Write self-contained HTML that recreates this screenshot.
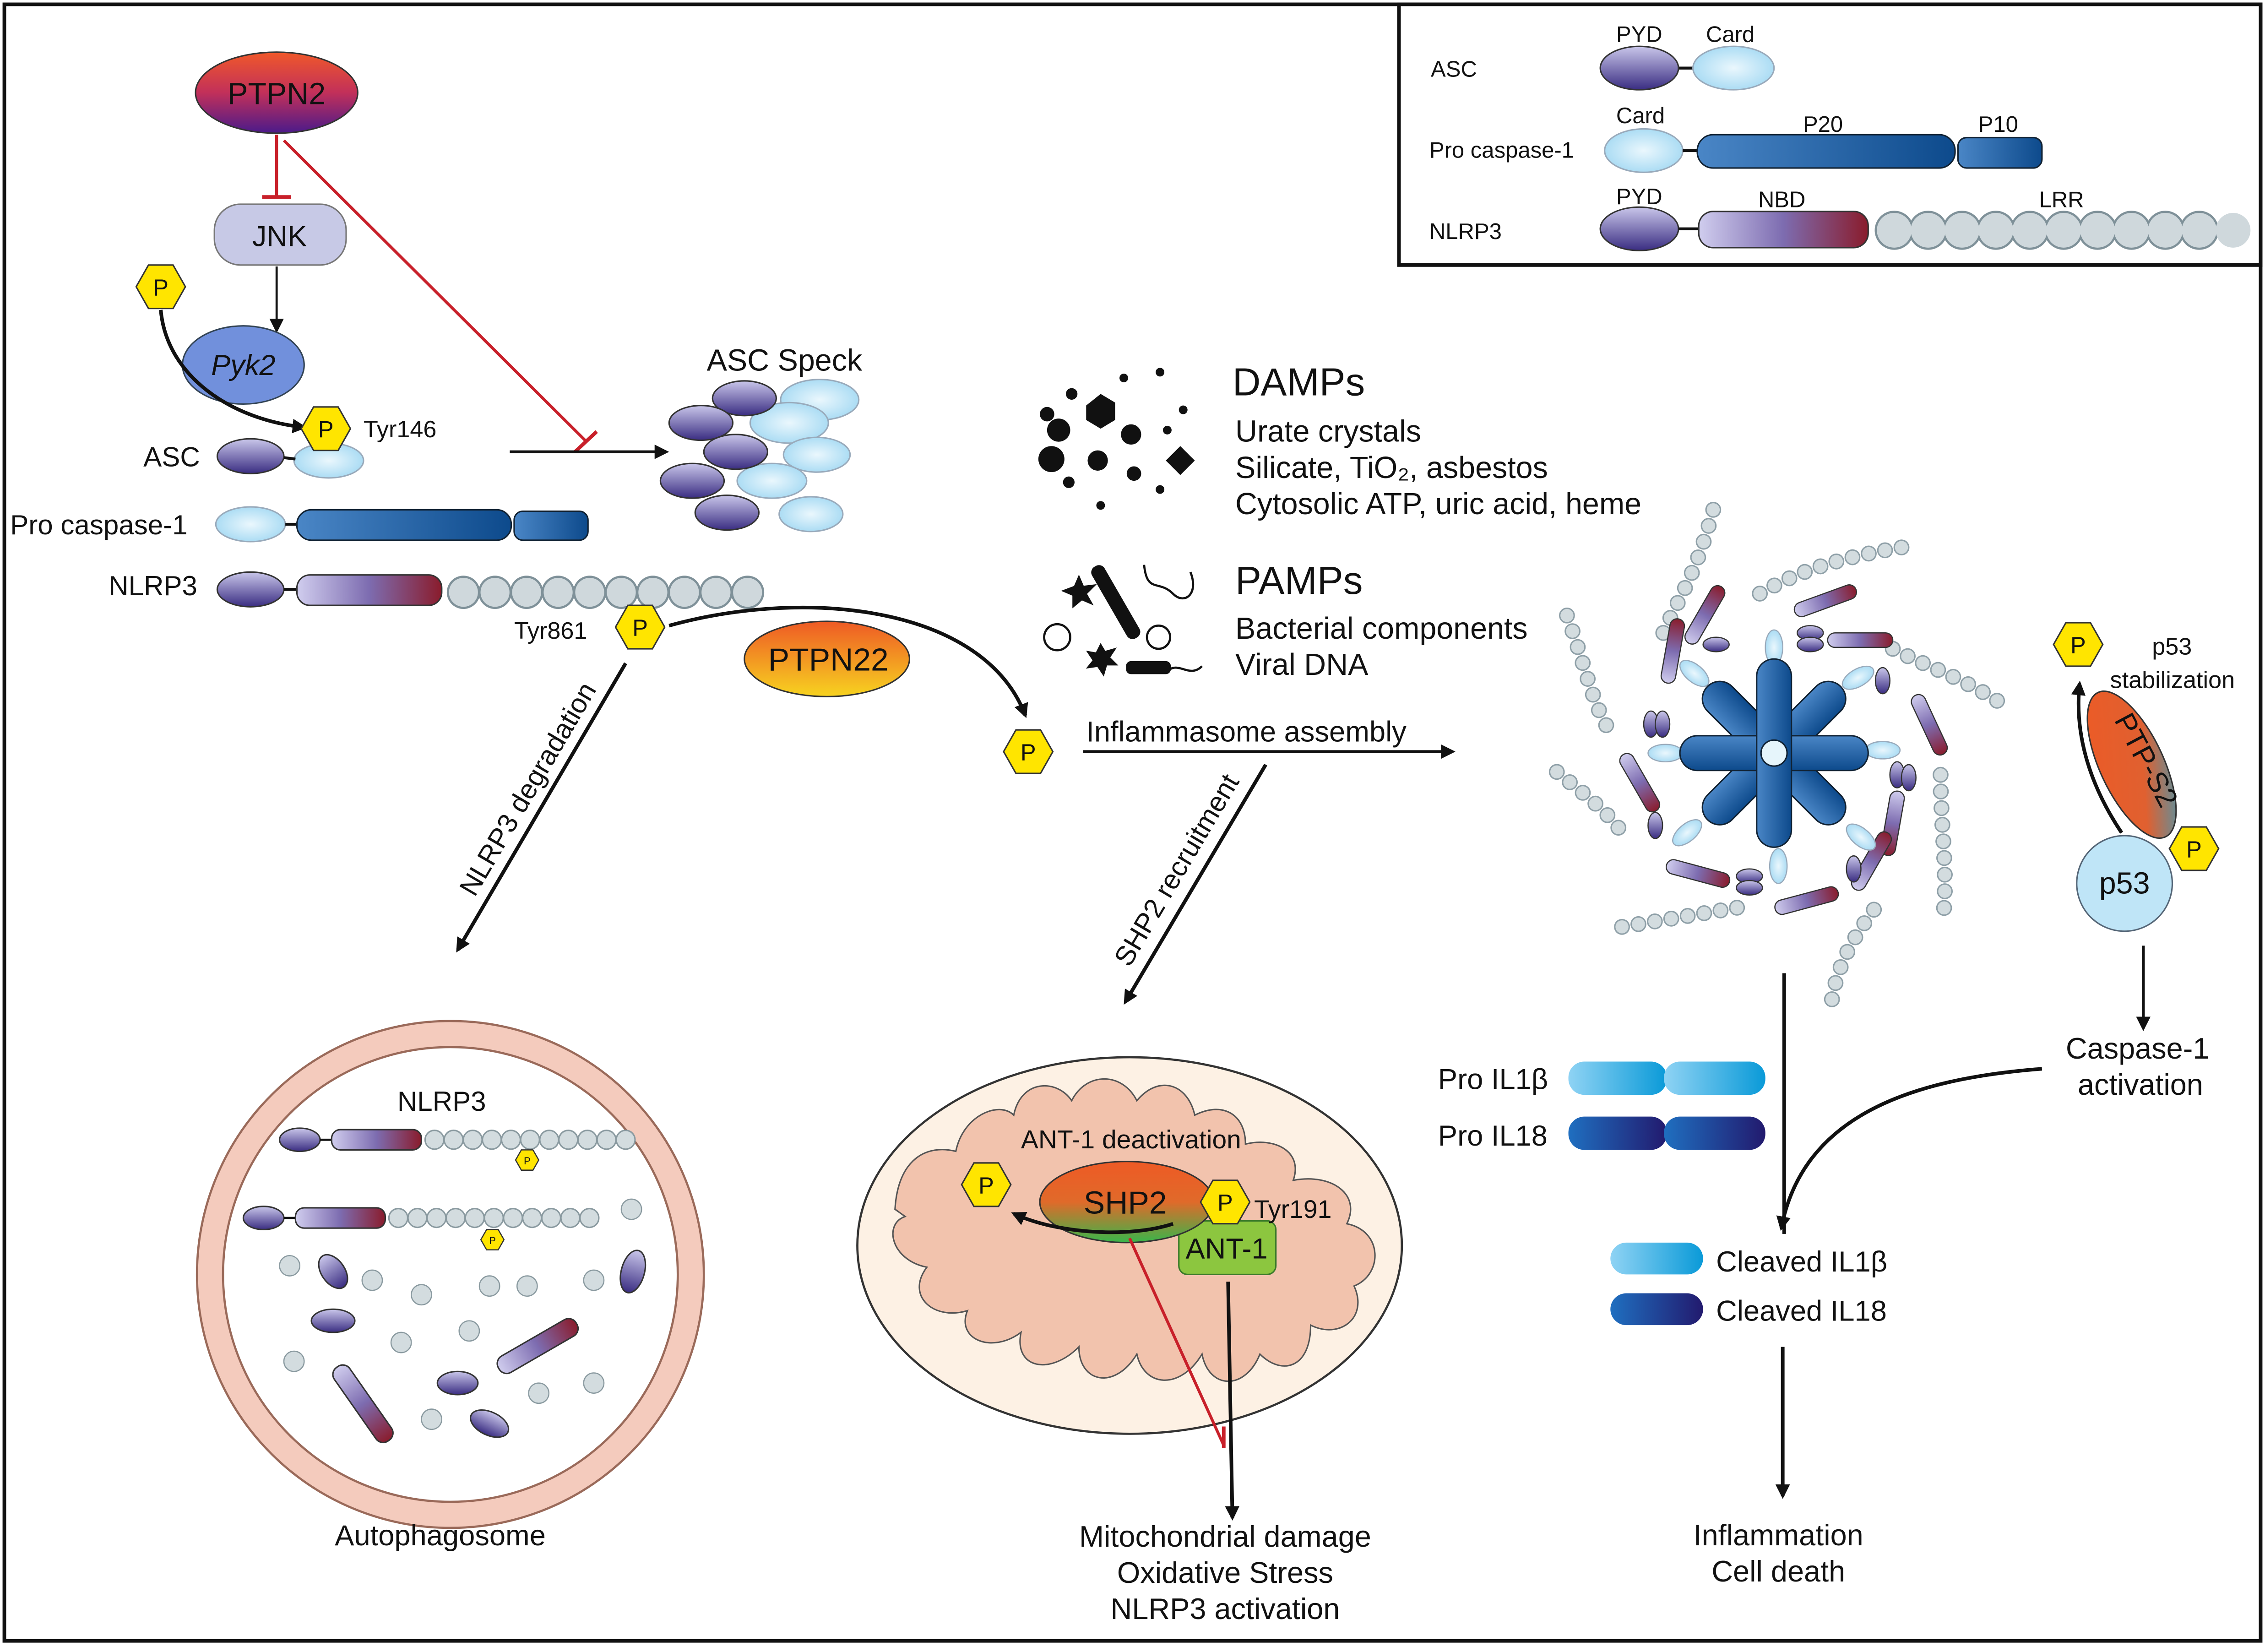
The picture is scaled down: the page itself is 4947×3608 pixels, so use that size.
<!DOCTYPE html>
<html><head><meta charset="utf-8"><style>html,body{margin:0;padding:0;background:#fff}svg{display:block}text{font-family:"Liberation Sans",sans-serif;fill:#111}</style></head><body>
<svg width="4947" height="3608" viewBox="0 0 1564 1140.7" xmlns="http://www.w3.org/2000/svg">
<defs>
<linearGradient id="pur" x1="0" y1="0" x2="0" y2="1"><stop offset="0" stop-color="#c9c6ea"/><stop offset="1" stop-color="#3a2d82"/></linearGradient>
<radialGradient id="lb" cx="0.5" cy="0.5" r="0.6"><stop offset="0" stop-color="#eaf7fd"/><stop offset="1" stop-color="#9fd7f2"/></radialGradient>
<linearGradient id="blu" x1="0" y1="0" x2="1" y2="0"><stop offset="0" stop-color="#4a86c6"/><stop offset="1" stop-color="#0d4a8c"/></linearGradient>
<linearGradient id="nbd" x1="0" y1="0" x2="1" y2="0"><stop offset="0" stop-color="#d0cdee"/><stop offset="0.5" stop-color="#7d6cb0"/><stop offset="1" stop-color="#8a1c2c"/></linearGradient>
<linearGradient id="ptpn2" x1="0" y1="0" x2="0" y2="1"><stop offset="0" stop-color="#f0582a"/><stop offset="0.5" stop-color="#c2305a"/><stop offset="1" stop-color="#4b1a8a"/></linearGradient>
<linearGradient id="ptpn22" x1="0" y1="0" x2="0" y2="1"><stop offset="0" stop-color="#ee5a25"/><stop offset="1" stop-color="#f7d320"/></linearGradient>
<linearGradient id="shp2" x1="0" y1="0" x2="0" y2="1"><stop offset="0" stop-color="#ee5a25"/><stop offset="0.5" stop-color="#e06a2a"/><stop offset="1" stop-color="#39b54a"/></linearGradient>
<linearGradient id="ptps2" x1="0" y1="0" x2="1" y2="1"><stop offset="0" stop-color="#ee5a25"/><stop offset="0.6" stop-color="#e06030"/><stop offset="1" stop-color="#2aa3c8"/></linearGradient>
<linearGradient id="il1" x1="0" y1="0" x2="1" y2="0"><stop offset="0" stop-color="#8fd3f4"/><stop offset="1" stop-color="#0a9ad8"/></linearGradient>
<linearGradient id="il18" x1="0" y1="0" x2="1" y2="0"><stop offset="0" stop-color="#1f6fc0"/><stop offset="1" stop-color="#221a6e"/></linearGradient>
<marker id="ah" markerWidth="10" markerHeight="10" refX="8" refY="5" orient="auto" markerUnits="userSpaceOnUse"><path d="M0,0 L10,5 L0,10 z" fill="#111"/></marker>
<g id="hex"><polygon points="-17,0 -8.5,-15 8.5,-15 17,0 8.5,15 -8.5,15" fill="#ffe500" stroke="#333" stroke-width="1"/><text x="0" y="6" font-size="16" text-anchor="middle">P</text></g>
<g id="hexs"><polygon points="-8,0 -4,-7 4,-7 8,0 4,7 -4,7" fill="#ffe500" stroke="#333" stroke-width="0.8"/><text x="0" y="3" font-size="7" text-anchor="middle">P</text></g>
</defs>
<rect x="3" y="3" width="1558" height="1130" fill="#fff" stroke="#111" stroke-width="2.5"/>
<!-- legend -->
<rect x="966" y="3" width="595" height="180" fill="#fff" stroke="#111" stroke-width="2.5"/>
<g font-size="15.5">
<text x="988" y="53">ASC</text><text x="987" y="109">Pro caspase-1</text><text x="987" y="165">NLRP3</text>
<text x="1116" y="29">PYD</text><text x="1178" y="29">Card</text>
<text x="1116" y="85">Card</text><text x="1245" y="91">P20</text><text x="1366" y="91">P10</text>
<text x="1116" y="141">PYD</text><text x="1214" y="143">NBD</text><text x="1408" y="143">LRR</text>
</g>
<line x1="1158" y1="47" x2="1172" y2="47" stroke="#111" stroke-width="2"/>
<ellipse cx="1132" cy="47" rx="27" ry="15" fill="url(#pur)" stroke="#333"/>
<ellipse cx="1197" cy="47" rx="28" ry="15" fill="url(#lb)" stroke="#9ab"/>
<ellipse cx="1135" cy="104" rx="27" ry="15" fill="url(#lb)" stroke="#9ab"/>
<line x1="1162" y1="104" x2="1172" y2="104" stroke="#111" stroke-width="2"/>
<rect x="1172" y="93" width="178" height="23" rx="11" fill="url(#blu)" stroke="#123"/>
<rect x="1352" y="95" width="58" height="21" rx="6" fill="url(#blu)" stroke="#123"/>
<ellipse cx="1132" cy="158" rx="27" ry="15" fill="url(#pur)" stroke="#333"/>
<line x1="1159" y1="158" x2="1173" y2="158" stroke="#111" stroke-width="2"/>
<rect x="1173" y="146" width="117" height="25" rx="10" fill="url(#nbd)" stroke="#333"/>
<path d="M1308,159 H1542" stroke="#7f9199" stroke-width="27" stroke-dasharray="0 23.4" stroke-linecap="round"/>
<path d="M1308,159 H1543" stroke="#cfd8dc" stroke-width="24" stroke-dasharray="0 23.4" stroke-linecap="round"/>

<!-- PTPN2 path -->
<ellipse cx="191" cy="64" rx="56" ry="28" fill="url(#ptpn2)" stroke="#333"/>
<text x="191" y="72" font-size="21" text-anchor="middle">PTPN2</text>
<line x1="191" y1="93" x2="191" y2="136" stroke="#c8202a" stroke-width="2"/><line x1="181" y1="136" x2="201" y2="136" stroke="#c8202a" stroke-width="2.5"/>
<line x1="196" y1="97" x2="405" y2="305" stroke="#c8202a" stroke-width="2"/><line x1="397" y1="312" x2="412" y2="298" stroke="#c8202a" stroke-width="2.5"/>
<rect x="148" y="141" width="91" height="42" rx="18" fill="#c7c9e6" stroke="#777"/>
<text x="193" y="170" font-size="20" text-anchor="middle">JNK</text>
<line x1="191" y1="184" x2="191" y2="228" stroke="#111" stroke-width="1.5" marker-end="url(#ah)"/>
<ellipse cx="168" cy="252" rx="42" ry="27" fill="#7190dc" stroke="#345"/>
<text x="168" y="259" font-size="20" text-anchor="middle" font-style="italic">Pyk2</text>
<use href="#hex" x="111" y="198"/>
<path d="M111,214 C115,260 160,290 210,295" fill="none" stroke="#111" stroke-width="2.5" marker-end="url(#ah)"/>
<ellipse cx="227" cy="318" rx="24" ry="12" fill="url(#lb)" stroke="#9ab"/>
<use href="#hex" x="225" y="296"/>
<text x="251" y="302" font-size="16.5">Tyr146</text>
<text x="99" y="322" font-size="19">ASC</text>
<ellipse cx="173" cy="315" rx="23" ry="12" fill="url(#pur)" stroke="#333"/>
<line x1="196" y1="316" x2="204" y2="317" stroke="#111" stroke-width="2"/>
<line x1="352" y1="312" x2="460" y2="312" stroke="#111" stroke-width="2" marker-end="url(#ah)"/>
<text x="488" y="256" font-size="21">ASC Speck</text>
<g stroke-width="1">
<ellipse cx="566" cy="276" rx="27" ry="14" fill="url(#lb)" stroke="#9ab"/>
<ellipse cx="545" cy="292" rx="27" ry="14" fill="url(#lb)" stroke="#9ab"/>
<ellipse cx="564" cy="314" rx="23" ry="12" fill="url(#lb)" stroke="#9ab"/>
<ellipse cx="533" cy="332" rx="24" ry="12" fill="url(#lb)" stroke="#9ab"/>
<ellipse cx="560" cy="355" rx="22" ry="12" fill="url(#lb)" stroke="#9ab"/>
<ellipse cx="514" cy="275" rx="22" ry="12" fill="url(#pur)" stroke="#333"/>
<ellipse cx="484" cy="292" rx="22" ry="12" fill="url(#pur)" stroke="#333"/>
<ellipse cx="508" cy="312" rx="22" ry="12" fill="url(#pur)" stroke="#333"/>
<ellipse cx="478" cy="332" rx="22" ry="12" fill="url(#pur)" stroke="#333"/>
<ellipse cx="502" cy="354" rx="22" ry="12" fill="url(#pur)" stroke="#333"/>
</g>
<text x="7" y="369" font-size="19">Pro caspase-1</text>
<ellipse cx="173" cy="362" rx="24" ry="12" fill="url(#lb)" stroke="#9ab"/>
<line x1="197" y1="362" x2="205" y2="362" stroke="#111" stroke-width="2"/>
<rect x="205" y="352" width="148" height="21" rx="10" fill="url(#blu)" stroke="#123"/>
<rect x="355" y="353" width="51" height="20" rx="6" fill="url(#blu)" stroke="#123"/>
<text x="75" y="411" font-size="19">NLRP3</text>
<ellipse cx="173" cy="407" rx="23" ry="12" fill="url(#pur)" stroke="#333"/>
<line x1="196" y1="407" x2="205" y2="407" stroke="#111" stroke-width="2"/>
<rect x="205" y="397" width="100" height="21" rx="9" fill="url(#nbd)" stroke="#333"/>
<path d="M320,409 H517" stroke="#7f9199" stroke-width="23" stroke-dasharray="0 21.8" stroke-linecap="round"/>
<path d="M320,409 H518" stroke="#cfd8dc" stroke-width="20" stroke-dasharray="0 21.8" stroke-linecap="round"/>
<text x="355" y="441" font-size="16.5">Tyr861</text>
<use href="#hex" x="442" y="433"/>
<path d="M462,432 C560,405 680,420 708,494" fill="none" stroke="#111" stroke-width="2.5" marker-end="url(#ah)"/>
<ellipse cx="571" cy="455" rx="57" ry="26" fill="url(#ptpn22)" stroke="#333"/>
<text x="572" y="463" font-size="22" text-anchor="middle">PTPN22</text>
<use href="#hex" x="710" y="519"/>
<!-- degradation -->
<line x1="432" y1="458" x2="316" y2="656" stroke="#111" stroke-width="2.5" marker-end="url(#ah)"/>
<text transform="translate(370,548) rotate(-59.6)" font-size="19" text-anchor="middle">NLRP3 degradation</text>
<!-- autophagosome -->
<circle cx="311" cy="880" r="175" fill="#f4cbbd" stroke="#9a6a5a" stroke-width="1.5"/>
<circle cx="311" cy="880" r="157" fill="#fff" stroke="#9a6a5a" stroke-width="1.5"/>
<text x="305" y="767" font-size="19" text-anchor="middle">NLRP3</text>
<ellipse cx="207" cy="787" rx="14" ry="8" fill="url(#pur)" stroke="#333"/><line x1="221" y1="787" x2="229" y2="787" stroke="#111" stroke-width="1.5"/>
<rect x="229" y="780" width="62" height="14" rx="6" fill="url(#nbd)" stroke="#333"/>
<path d="M300,787 H432" stroke="#8a9aa0" stroke-width="14" stroke-dasharray="0 13.2" stroke-linecap="round"/><path d="M300,787 H432" stroke="#d3dcdf" stroke-width="12" stroke-dasharray="0 13.2" stroke-linecap="round"/>
<use href="#hexs" x="364" y="801"/>
<ellipse cx="182" cy="841" rx="14" ry="8" fill="url(#pur)" stroke="#333"/><line x1="196" y1="841" x2="204" y2="841" stroke="#111" stroke-width="1.5"/>
<rect x="204" y="834" width="62" height="14" rx="6" fill="url(#nbd)" stroke="#333"/>
<path d="M275,841 H410" stroke="#8a9aa0" stroke-width="14" stroke-dasharray="0 13.2" stroke-linecap="round"/><path d="M275,841 H410" stroke="#d3dcdf" stroke-width="12" stroke-dasharray="0 13.2" stroke-linecap="round"/>
<use href="#hexs" x="340" y="856"/>
<g fill="#d3dcdf" stroke="#8a9aa0" stroke-width="0.8">
<circle cx="436" cy="835" r="7"/><circle cx="200" cy="874" r="7"/><circle cx="257" cy="884" r="7"/><circle cx="291" cy="894" r="7"/><circle cx="338" cy="888" r="7"/><circle cx="364" cy="888" r="7"/><circle cx="410" cy="884" r="7"/><circle cx="203" cy="940" r="7"/><circle cx="277" cy="927" r="7"/><circle cx="324" cy="919" r="7"/><circle cx="372" cy="962" r="7"/><circle cx="410" cy="955" r="7"/><circle cx="298" cy="980" r="7"/>
</g>
<g stroke="#333" stroke-width="1">
<ellipse cx="230" cy="878" rx="8" ry="13" transform="rotate(-35 230 878)" fill="url(#pur)"/>
<ellipse cx="437" cy="878" rx="8" ry="15" transform="rotate(15 437 878)" fill="url(#pur)"/>
<ellipse cx="230" cy="912" rx="15" ry="8" fill="url(#pur)"/>
<ellipse cx="316" cy="955" rx="14" ry="8" fill="url(#pur)"/>
<ellipse cx="338" cy="983" rx="14" ry="8" transform="rotate(25 338 983)" fill="url(#pur)"/>
<rect x="340" y="923" width="62" height="13" rx="6" transform="rotate(-30 371 929)" fill="url(#nbd)"/>
<rect x="220" y="963" width="62" height="13" rx="6" transform="rotate(55 251 969)" fill="url(#nbd)"/>
</g>
<text x="304" y="1067" font-size="20" text-anchor="middle">Autophagosome</text>

<!-- DAMPs -->
<g fill="#111">
<circle cx="723" cy="286" r="5"/><circle cx="740" cy="272" r="4"/><circle cx="731" cy="297" r="8"/><polygon points="750,280 760,272 770,278 770,290 760,296 750,290"/><circle cx="776" cy="261" r="3"/><circle cx="801" cy="257" r="3"/><circle cx="817" cy="283" r="3"/><circle cx="781" cy="300" r="7"/><circle cx="806" cy="297" r="3"/><circle cx="726" cy="317" r="9"/><circle cx="758" cy="318" r="7"/><circle cx="783" cy="327" r="5"/><polygon points="815,308 825,318 815,328 805,318"/><circle cx="738" cy="333" r="4"/><circle cx="801" cy="338" r="3"/><circle cx="760" cy="349" r="3"/>
</g>
<text x="851" y="273" font-size="27">DAMPs</text>
<g font-size="21"><text x="853" y="305">Urate crystals</text><text x="853" y="330">Silicate, TiO₂, asbestos</text><text x="853" y="355">Cytosolic ATP, uric acid, heme</text>
<text x="853" y="441">Bacterial components</text><text x="853" y="466">Viral DNA</text></g>
<text x="853" y="410" font-size="27">PAMPs</text>
<!-- PAMP icons -->
<g fill="#111" stroke="#111">
<rect x="766" y="388" width="9" height="56" rx="4" transform="rotate(-30 770 416)"/>
<polygon points="745,398 748,405 756,404 750,410 754,417 747,414 741,419 741,411 734,408 742,405" />
<polygon points="760,445 763,450 770,448 766,454 771,459 764,459 762,466 758,460 751,461 755,456 751,450 757,451"/>
<rect x="778" y="457" width="30" height="8" rx="3"/>
</g>
<g fill="none" stroke="#111" stroke-width="1.5">
<path d="M790,390 C792,410 800,400 810,410 C818,418 828,410 822,395"/>
<path d="M808,462 C815,458 822,468 830,460"/>
<circle cx="730" cy="440" r="9"/><circle cx="800" cy="440" r="8"/>
</g>
<!-- inflammasome assembly -->
<text x="750" y="512" font-size="20">Inflammasome assembly</text>
<line x1="748" y1="519" x2="1003" y2="519" stroke="#111" stroke-width="2" marker-end="url(#ah)"/>
<line x1="874" y1="528" x2="777" y2="692" stroke="#111" stroke-width="2.5" marker-end="url(#ah)"/>
<text transform="translate(818,604) rotate(-59.4)" font-size="19" text-anchor="middle">SHP2 recruitment</text>
<!-- mitochondrion -->
<ellipse cx="780" cy="860" rx="188" ry="130" fill="#fdf1e4" stroke="#333" stroke-width="1.5"/>
<path d="M618,835 C620,800 640,790 660,795 C665,770 690,760 700,770 C705,745 730,745 740,760 C750,740 775,740 785,760 C800,742 820,748 825,770 C845,760 860,770 860,790 C880,785 900,795 893,815 C920,810 940,825 930,845 C955,850 955,880 935,888 C945,910 925,925 905,915 C905,945 885,950 870,935 C860,960 835,960 830,935 C815,960 790,958 785,935 C770,960 745,955 745,930 C725,950 700,945 705,920 C685,935 660,925 668,905 C645,912 625,895 640,875 C615,870 610,845 625,840 Z" fill="#f2c3ad" stroke="#555" stroke-width="1"/>
<text x="781" y="793" font-size="18" text-anchor="middle">ANT-1 deactivation</text>
<rect x="814" y="843" width="67" height="37" rx="6" fill="#8cc63f" stroke="#3a7a2a"/>
<text x="847" y="869" font-size="20" text-anchor="middle">ANT-1</text>
<ellipse cx="778" cy="830" rx="60" ry="28" fill="url(#shp2)" stroke="#333"/>
<text x="777" y="838" font-size="22" text-anchor="middle">SHP2</text>
<path d="M810,845 C780,855 730,852 700,838" fill="none" stroke="#111" stroke-width="2.5" marker-end="url(#ah)"/>
<use href="#hex" x="681" y="818"/>
<use href="#hex" x="846" y="830"/>
<text x="866" y="841" font-size="17.5">Tyr191</text>
<line x1="780" y1="855" x2="845" y2="998" stroke="#c8202a" stroke-width="2"/><line x1="845" y1="985" x2="845" y2="1000" stroke="#c8202a" stroke-width="2.5"/>
<line x1="848" y1="885" x2="851" y2="1048" stroke="#111" stroke-width="2.5" marker-end="url(#ah)"/>
<g font-size="20.5" text-anchor="middle"><text x="846" y="1068">Mitochondrial damage</text><text x="846" y="1093">Oxidative Stress</text><text x="846" y="1118">NLRP3 activation</text>
<text x="1228" y="1067">Inflammation</text><text x="1228" y="1092">Cell death</text>
<text x="1476" y="731">Caspase-1</text><text x="1478" y="756">activation</text></g>
<!-- inflammasome structure -->
<g fill="none" stroke-linecap="round">
<g stroke="#8fa0a8" stroke-width="11" stroke-dasharray="0 11.5">
<path d="M1183,352 C1170,400 1160,410 1145,445"/>
<path d="M1313,378 C1270,385 1240,395 1215,410"/>
<path d="M1082,425 C1095,460 1100,490 1115,510"/>
<path d="M1075,533 C1090,545 1110,560 1120,575"/>
<path d="M1307,448 C1330,460 1360,470 1385,488"/>
<path d="M1340,535 C1340,570 1345,600 1342,632"/>
<path d="M1120,640 C1150,635 1180,630 1210,625"/>
<path d="M1265,690 C1270,660 1285,640 1300,620"/>
</g>
<g stroke="#d3dcdf" stroke-width="9" stroke-dasharray="0 11.5">
<path d="M1183,352 C1170,400 1160,410 1145,445"/>
<path d="M1313,378 C1270,385 1240,395 1215,410"/>
<path d="M1082,425 C1095,460 1100,490 1115,510"/>
<path d="M1075,533 C1090,545 1110,560 1120,575"/>
<path d="M1307,448 C1330,460 1360,470 1385,488"/>
<path d="M1340,535 C1340,570 1345,600 1342,632"/>
<path d="M1120,640 C1150,635 1180,630 1210,625"/>
<path d="M1265,690 C1270,660 1285,640 1300,620"/>
</g></g>
<g stroke="#333" stroke-width="0.8">
<rect x="1133" y="445" width="45" height="10" rx="5" transform="rotate(-80 1155 450)" fill="url(#nbd)"/>
<rect x="1155" y="420" width="45" height="10" rx="5" transform="rotate(-60 1177 425)" fill="url(#nbd)"/>
<rect x="1262" y="437" width="45" height="10" rx="5" fill="url(#nbd)"/>
<rect x="1310" y="495" width="45" height="10" rx="5" transform="rotate(65 1332 500)" fill="url(#nbd)"/>
<rect x="1285" y="563" width="45" height="10" rx="5" transform="rotate(100 1307 568)" fill="url(#nbd)"/>
<rect x="1150" y="598" width="45" height="10" rx="5" transform="rotate(15 1172 603)" fill="url(#nbd)"/>
<rect x="1225" y="617" width="45" height="10" rx="5" transform="rotate(-15 1247 622)" fill="url(#nbd)"/>
<rect x="1110" y="535" width="45" height="10" rx="5" transform="rotate(60 1132 540)" fill="url(#nbd)"/>
<rect x="1270" y="590" width="45" height="10" rx="5" transform="rotate(-60 1292 595)" fill="url(#nbd)"/>
<rect x="1238" y="410" width="45" height="10" rx="5" transform="rotate(-20 1260 415)" fill="url(#nbd)"/>
<ellipse cx="1140" cy="500" rx="5" ry="9" fill="url(#pur)"/><ellipse cx="1148" cy="500" rx="5" ry="9" fill="url(#pur)"/>
<ellipse cx="1250" cy="437" rx="9" ry="5" fill="url(#pur)"/><ellipse cx="1250" cy="445" rx="9" ry="5" fill="url(#pur)"/>
<ellipse cx="1310" cy="535" rx="5" ry="9" fill="url(#pur)"/><ellipse cx="1318" cy="537" rx="5" ry="9" fill="url(#pur)"/>
<ellipse cx="1208" cy="605" rx="9" ry="5" fill="url(#pur)"/><ellipse cx="1208" cy="613" rx="9" ry="5" fill="url(#pur)"/>
<ellipse cx="1280" cy="600" rx="5" ry="9" fill="url(#pur)"/><ellipse cx="1143" cy="570" rx="5" ry="9" fill="url(#pur)"/>
<ellipse cx="1300" cy="470" rx="5" ry="9" fill="url(#pur)"/><ellipse cx="1185" cy="445" rx="9" ry="5" fill="url(#pur)"/>
</g>
<g stroke="#9ab" stroke-width="0.8" fill="url(#lb)">
<ellipse cx="1170" cy="465" rx="12" ry="6" transform="rotate(40 1170 465)"/><ellipse cx="1225" cy="447" rx="6" ry="12"/>
<ellipse cx="1283" cy="468" rx="12" ry="6" transform="rotate(-30 1283 468)"/><ellipse cx="1300" cy="518" rx="12" ry="6"/>
<ellipse cx="1285" cy="578" rx="12" ry="6" transform="rotate(40 1285 578)"/><ellipse cx="1228" cy="598" rx="6" ry="12"/>
<ellipse cx="1165" cy="575" rx="12" ry="6" transform="rotate(-40 1165 575)"/><ellipse cx="1150" cy="520" rx="12" ry="6"/>
</g>
<g fill="url(#blu)" stroke="#123" stroke-width="1">
<rect x="1213" y="455" width="24" height="130" rx="12" transform="rotate(45 1225 520)"/>
<rect x="1213" y="455" width="24" height="130" rx="12" transform="rotate(-45 1225 520)"/>
<rect x="1213" y="455" width="24" height="130" rx="12" transform="rotate(90 1225 520)"/>
<rect x="1213" y="455" width="24" height="130" rx="12"/>
</g>
<circle cx="1225" cy="520" r="9" fill="#e6f5fb" stroke="#123"/>
<!-- p53 -->
<use href="#hex" x="1435" y="445"/>
<text x="1486" y="452" font-size="16.5">p53</text><text x="1457" y="475" font-size="16.5">stabilization</text>
<ellipse cx="1472" cy="528" rx="22" ry="55" transform="rotate(-25 1472 528)" fill="url(#ptps2)" stroke="#333"/>
<text transform="translate(1476,528) rotate(62)" font-size="20" text-anchor="middle">PTP-S2</text>
<path d="M1465,575 C1445,545 1432,510 1436,472" fill="none" stroke="#111" stroke-width="2.5" marker-end="url(#ah)"/>
<circle cx="1467" cy="610" r="33" fill="#bfe5f7" stroke="#567"/>
<text x="1467" y="617" font-size="21" text-anchor="middle">p53</text>
<use href="#hex" x="1515" y="586"/>
<line x1="1480" y1="653" x2="1480" y2="710" stroke="#111" stroke-width="2" marker-end="url(#ah)"/>
<line x1="1232" y1="672" x2="1232" y2="852" stroke="#111" stroke-width="2.5"/>
<path d="M1410,738 C1320,745 1245,770 1230,848" fill="none" stroke="#111" stroke-width="2.5" marker-end="url(#ah)"/>
<text x="993" y="752" font-size="20">Pro IL1β</text><text x="993" y="791" font-size="20">Pro IL18</text>
<rect x="1083" y="733" width="68" height="23" rx="11" fill="url(#il1)"/><rect x="1149" y="733" width="70" height="23" rx="11" fill="url(#il1)"/>
<rect x="1083" y="771" width="68" height="23" rx="11" fill="url(#il18)"/><rect x="1149" y="771" width="70" height="23" rx="11" fill="url(#il18)"/>
<rect x="1112" y="858" width="64" height="22" rx="11" fill="url(#il1)"/><text x="1185" y="878" font-size="20">Cleaved IL1β</text>
<rect x="1112" y="893" width="64" height="22" rx="11" fill="url(#il18)"/><text x="1185" y="912" font-size="20">Cleaved IL18</text>
<line x1="1231" y1="930" x2="1231" y2="1033" stroke="#111" stroke-width="2.5" marker-end="url(#ah)"/>
</svg>
</body></html>
